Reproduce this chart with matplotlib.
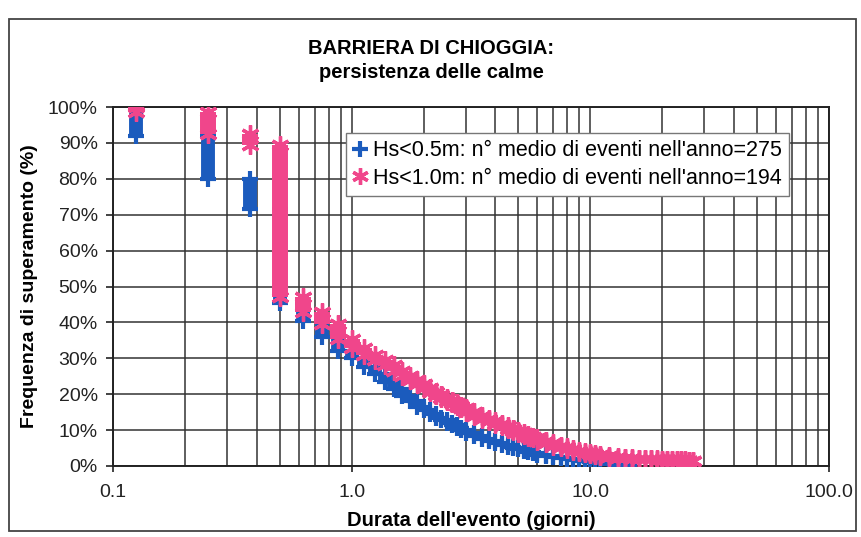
import matplotlib
matplotlib.use("Agg")
import matplotlib.pyplot as plt
from matplotlib.lines import Line2D
from matplotlib.patches import Rectangle
from matplotlib.ticker import FuncFormatter, LogLocator, MultipleLocator

plt.rcParams['font.family'] = ['Liberation Sans', 'DejaVu Sans']

# durata degli eventi (giorni) e frequenza di superamento (%)
dur_05 = [0.125, 0.25, 0.375, 0.5, 0.625, 0.75, 0.875, 1.0, 1.125, 1.25, 1.375,
          1.5, 1.625, 1.75, 1.875, 2.0, 2.125, 2.25, 2.375, 2.5, 2.625, 2.75,
          2.875, 3.0, 3.25, 3.5, 3.75, 4.0, 4.25, 4.5, 4.75, 5.0, 5.25, 5.5,
          5.75, 6.0, 6.5, 7.0, 7.5, 8.0, 8.5, 9.0, 9.5, 10.0, 10.5, 11.0,
          12.0, 13.0, 14.5]
freq_05 = [100, 92, 80, 71.5, 45.5, 40.5, 36, 32, 30, 27.5, 25.5,
           23.5, 21.5, 19.5, 18, 16.5, 15.5, 14.5, 13.5, 12.7, 12, 11.3,
           10.7, 10.1, 9.1, 8.3, 7.6, 7.0, 6.4, 5.9, 5.4, 5.0, 4.6, 4.2,
           3.9, 3.6, 3.2, 2.8, 2.4, 2.1, 1.9, 1.7, 1.5, 1.3, 1.2, 1.0,
           0.8, 0.6, 0.4]

dur_10 = [0.125, 0.25, 0.375, 0.5, 0.625, 0.75, 0.875, 1.0, 1.125, 1.25, 1.375,
          1.5, 1.625, 1.75, 1.875, 2.0, 2.125, 2.25, 2.375, 2.5, 2.625, 2.75,
          2.875, 3.0, 3.25, 3.5, 3.75, 4.0, 4.25, 4.5, 4.75, 5.0, 5.25, 5.5,
          5.75, 6.0, 6.5, 7.0, 7.5, 8.0, 8.5, 9.0, 9.5, 10.0, 10.5, 11.0,
          12.0, 13.0, 14.0, 15.0, 16.0, 17.0, 18.0, 19.0, 20.0, 21.0, 22.0,
          23.0, 24.0, 25.0, 26.0, 27.0]
freq_10 = [100, 98.5, 92.5, 89.5, 47, 43, 39.5, 35.5, 33, 31, 29.5,
           28, 26.5, 25.2, 24, 22.8, 21.7, 20.7, 19.8, 19, 18.2, 17.5,
           16.8, 16.2, 15, 14, 13.2, 12.5, 11.8, 11.1, 10.4, 9.8, 9.2, 8.7,
           8.2, 7.8, 7.0, 6.3, 5.7, 5.2, 4.7, 4.3, 3.9, 3.6, 3.3, 3.1,
           2.8, 2.5, 2.3, 2.2, 2.0, 2.0, 1.9, 1.9, 1.8, 1.8, 1.7,
           1.7, 1.6, 1.6, 1.5, 1.5]

labels = ["Hs<0.5m: n° medio di eventi nell'anno=275",
          "Hs<1.0m: n° medio di eventi nell'anno=194"]
x_ticks = [0.1, 1.0, 10.0, 100.0]

BLUE = '#1b5bbd'
PINK = '#f0468b'
ASTER = (6, 2, 0)

fig = plt.figure(figsize=(8.62, 5.37), dpi=100)
fig.patches.append(Rectangle((9 / 862, 1 - 531 / 537), 847 / 862, 512 / 537,
                             transform=fig.transFigure, fill=False,
                             edgecolor='#444444', lw=1.3))
ax = fig.add_axes([113 / 862, 1 - 466 / 537, 716 / 862, 359 / 537])


def draw_series(dur, freq, color, marker, ms, mew, lw):
    # each duration spans from its exceedance value down to the next one
    lo = freq[1:] + [freq[-1]]
    ax.vlines(dur, lo, freq, color=color, lw=lw, zorder=3)
    ax.plot(dur, freq, ls='none', marker=marker, ms=ms, mew=mew, color=color, zorder=3)
    ax.plot(dur, lo, ls='none', marker=marker, ms=ms, mew=mew, color=color, zorder=3)


draw_series(dur_05, freq_05, BLUE, '+', 12, 3.0, 10)
draw_series(dur_10, freq_10, PINK, ASTER, 13, 2.4, 11.5)

ax.set_xscale('log')
ax.set_xlim(0.1, 100)
ax.set_ylim(0, 100)
ax.set_xticks(x_ticks)
ax.xaxis.set_minor_locator(LogLocator(base=10, subs=range(2, 10)))
ax.xaxis.set_major_formatter(FuncFormatter(lambda v, p: '{:.1f}'.format(v)))
ax.xaxis.set_minor_formatter(FuncFormatter(lambda v, p: ''))
ax.yaxis.set_major_locator(MultipleLocator(10))
ax.yaxis.set_major_formatter(FuncFormatter(lambda v, p: '{:.0f}%'.format(v)))

ax.grid(True, which='both', axis='x', color='#333333', lw=1.1, zorder=1)
ax.grid(True, which='major', axis='y', color='#333333', lw=1.1, zorder=1)
for s in ax.spines.values():
    s.set_color('#222222')
    s.set_linewidth(1.4)

ax.tick_params(axis='y', direction='out', length=5, width=1.2, pad=6,
               labelsize=14, colors='#222222')
ax.tick_params(axis='x', which='major', direction='out', length=4, width=1.2,
               pad=9, labelsize=14, colors='#222222')
ax.tick_params(axis='x', which='minor', length=0)

ax.set_xlabel("Durata dell'evento (giorni)", fontsize=14.5, fontweight='bold',
              labelpad=7)
ax.set_ylabel("Frequenza di superamento (%)", fontsize=14, fontweight='bold',
              labelpad=7)
fig.text(0.5, 1 - 48 / 537, "BARRIERA DI CHIOGGIA:", ha='center', va='center',
         fontsize=14.5, fontweight='bold')
fig.text(0.5, 1 - 73 / 537, "persistenza delle calme", ha='center', va='center',
         fontsize=14.5, fontweight='bold')

handles = [Line2D([], [], ls='none', marker='+', ms=12, mew=3.0, color=BLUE),
           Line2D([], [], ls='none', marker=ASTER, ms=12, mew=2.4, color=PINK)]
leg = ax.legend(handles, labels, loc='upper left', bbox_to_anchor=(0.325, 0.928),
                fontsize=15.5, frameon=True, fancybox=False, framealpha=1,
                edgecolor='#777777', handlelength=0.6, handletextpad=0.3,
                labelspacing=0.3, borderpad=0.35, borderaxespad=0)
leg.get_frame().set_linewidth(1.0)
leg.set_zorder(5)

fig.savefig('out.png', dpi=100)
